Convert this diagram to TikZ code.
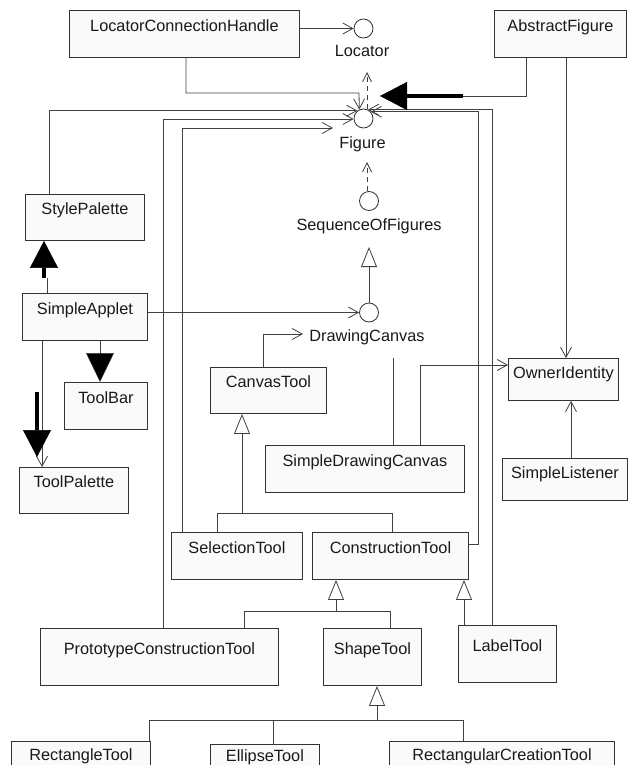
\documentclass[tikz,border=0pt]{standalone}
\usepackage{fontspec}
\setmainfont{Liberation Sans}
\usetikzlibrary{arrows.meta,calc}
\newcommand\cls[7]{\node[box, minimum width=#4pt, text height=#5pt, text depth=#6pt] (#1) at (#2,#3) {#7};}
\begin{document}
\begin{tikzpicture}[x=1pt,y=-1pt,
  every node/.style={font=\fontsize{16.3}{19}\selectfont, text=black!90},
  box/.style={draw=black!80, fill=black!2, line width=0.9pt, inner xsep=0pt, inner ysep=0pt, minimum height=0pt, anchor=north west},
  iface/.style={circle, draw=black!80, fill=white, line width=0.8pt, minimum size=19pt, inner sep=0pt},
  ilabel/.style={anchor=base, inner sep=0pt},
  conn/.style={draw=black!75, line width=0.8pt},
  assoc/.style={conn, -{Straight Barb[length=10pt,width=11pt]}},
  dep/.style={conn, dash pattern=on 5pt off 4pt, -{Straight Barb[length=9pt,width=9pt]}},
  inh/.style={conn, -{Triangle[length=20pt,width=16pt,fill=white]}},
  fat/.style={draw=black, line width=4pt, -{Triangle[length=27pt,width=28pt,line width=0.5pt]}},
  fathead/.style={conn, -{Triangle[length=29pt,width=28pt,fill=black,line width=0.5pt]}}
]
\useasboundingbox (0,0) rectangle (629,765);

% classes
\cls{lch}{69}{10}{230}{21}{26}{LocatorConnectionHandle}
\cls{abs}{494}{10}{132}{21}{26}{AbstractFigure}
\cls{sty}{25}{194}{119}{20}{26}{StylePalette}
\cls{app}{22}{293}{125}{21}{26}{SimpleApplet}
\cls{bar}{64}{382}{83}{21}{26}{ToolBar}
\cls{pal}{19}{467}{109}{20}{26}{ToolPalette}
\cls{cvt}{210}{367}{116}{20}{26}{CanvasTool}
\cls{sdc}{265}{445}{199}{21}{26}{SimpleDrawingCanvas}
\cls{own}{508}{358}{110}{20}{22}{OwnerIdentity}
\cls{lis}{502}{458}{125}{20}{22}{SimpleListener}
\cls{sel}{171}{532}{131}{21}{26}{SelectionTool}
\cls{con}{312}{532}{156}{21}{26}{ConstructionTool}
\cls{pct}{40}{628}{238}{26}{31}{PrototypeConstructionTool}
\cls{shp}{323}{628}{98}{26}{31}{ShapeTool}
\cls{lbt}{458}{625}{98}{26}{31}{LabelTool}
\cls{rec}{11}{741}{139}{19}{40}{RectangleTool}
\cls{ell}{210}{744}{109}{17}{40}{EllipseTool}
\cls{rct}{389}{741}{225}{19}{40}{RectangularCreationTool}

% interfaces
\node[iface] (loc) at (363.5,28.5) {};
\node[ilabel] (locT) at (362,57) {Locator};
\node[iface] (fig) at (363.5,118.5) {};
\node[ilabel] (figT) at (362.5,148) {Figure};
\node[iface] (sof) at (369,201) {};
\node[ilabel] (sofT) at (369,230) {SequenceOfFigures};
\node[iface] (dc) at (369,312.5) {};
\node[ilabel] (dcT) at (367,341) {DrawingCanvas};

% helper coordinates
\coordinate (k1) at (359,93);
\coordinate (a1) at (526,96);
\coordinate (a2) at (463,96);
\coordinate (a3) at (380,96);
\coordinate (d1) at (367,72);
\coordinate (d2) at (367,162);
\coordinate (t1) at (369,247);
\coordinate (s1) at (49,111);
\coordinate (p1) at (163,119);
\coordinate (s3) at (333,128);
\coordinate (s4) at (182,128);
\coordinate (c1) at (478,544);
\coordinate (l1) at (492,110);
\coordinate (g1) at (47,278);
\coordinate (g2) at (44,278);
\coordinate (b1) at (100,353);
\coordinate (q1) at (42,340);
\coordinate (q2) at (37,392);
\coordinate (q3) at (37,457);
\coordinate (v1) at (263,334);
\coordinate (v2) at (303,334);
\coordinate (f1) at (393,358);
\coordinate (o1) at (420,365);
\coordinate (m1) at (566,57);
\coordinate (n1) at (571,400);
\coordinate (h1) at (242,513);
\coordinate (h2) at (336,611);
\coordinate (h3) at (377,720);

% connectors to Locator / Figure
\draw[assoc] (lch.east |- loc.west) -- (loc.west);
\draw[assoc] (lch.south -| 186,0) |- (k1) -- (fig.115);
\draw[dep] (fig.north -| d1) -- (d1);
\draw[dep] (sof.north -| d2) -- (d2);
\draw[inh] (dc.north) -- (t1);
\draw[assoc] (sty.north -| s1) |- (fig.128);
\draw[assoc] (pct.north -| p1) |- (fig.183);
\draw[assoc] (sel.north -| s4) -- (s4) -- (s3);
\draw[assoc] (con.east |- c1) -- (c1) |- (fig.43);
\draw[assoc] (lbt.north -| l1) |- (fig.63);

% SimpleApplet
\draw[conn] (app.north -| g1) -- (g1);
\draw[fat] (g2) -- (sty.south -| g2);
\draw[conn] (app.south -| b1) -- (b1);
\draw[fathead] (b1) -- (bar.north -| b1);
\draw[assoc] (app.south -| q1) -- (pal.north -| q1);
\draw[fat] (q2) -- (q3);
\draw[assoc] (app.east |- dc.west) -- (dc.west);

% canvas
\draw[assoc] (cvt.north -| v1) |- (v2);
\draw[conn] (sdc.north -| f1) -- (f1);
\draw[assoc] (sdc.north -| o1) |- (own.west |- o1);
\draw[assoc] (abs.south -| m1) -- (own.north -| m1);
\draw[assoc] (lis.north -| n1) -- (own.south -| n1);

% inheritance trees
\draw[conn] (sel.north -| 217,0) |- (h1);
\draw[inh] (con.north -| 392,0) |- (h1) -- (cvt.south -| h1);
\draw[conn] (pct.north -| 244,0) |- (h2);
\draw[inh] (shp.north -| 390,0) |- (h2) -- (con.south -| h2);
\draw[inh] (lbt.north -| 464,0) -- (con.south -| 464,0);
\draw[conn] (rec.north -| 149,0) |- (h3);
\draw[conn] (ell.north -| 273,0) |- (h3);
\draw[inh] (rct.north -| 463,0) |- (h3) -- (shp.south -| h3);

% AbstractFigure thick arrow
\draw[conn] (abs.south -| a1) -- (a1) -- (a2);
\draw[fat] (a2) -- (a3);
\end{tikzpicture}
\end{document}
